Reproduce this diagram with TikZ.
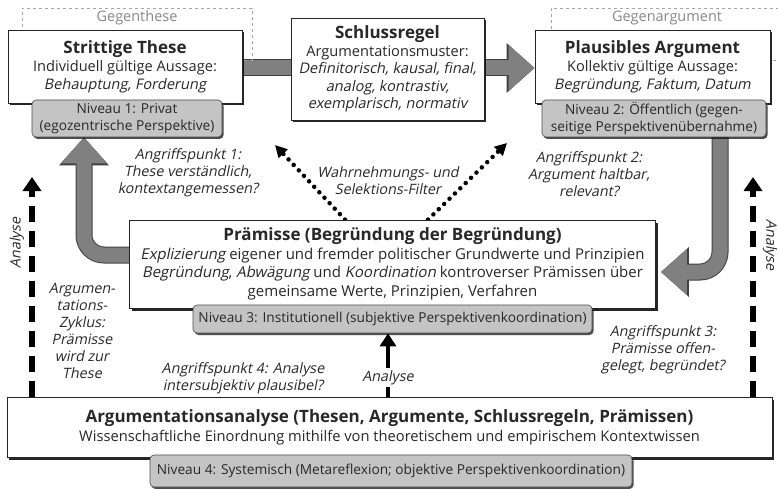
\documentclass[tikz,border=0pt]{standalone}
\usepackage{fontspec}
\setmainfont{Open Sans}[ItalicFont=Open Sans,ItalicFeatures={FakeSlant=0.2}]
\usetikzlibrary{arrows.meta,positioning,shadows}
\definecolor{inkgray}{RGB}{40,40,40}
\definecolor{levelgray}{RGB}{196,196,196}
\definecolor{bargray}{RGB}{128,128,128}
\definecolor{notegray}{RGB}{135,135,135}
\pgfdeclarelayer{bg}
\pgfsetlayers{bg,main}
\newcommand{\boxtitle}[1]{{\fontsize{17}{19}\selectfont\bfseries #1}}
\tikzset{
  argbox/.style={draw=black!85,line width=0.8pt,fill=white,align=center,inner sep=2pt,
    text=inkgray,font=\fontsize{14.6}{17.5}\selectfont,
    drop shadow={shadow xshift=2pt,shadow yshift=-2.5pt,opacity=0.85,fill=black}},
  levelbox/.style={draw=black!70,line width=0.6pt,fill=levelgray,rounded corners=4pt,align=center,
    inner sep=1pt,text=inkgray,font=\fontsize{13.7}{17}\selectfont,
    drop shadow={shadow xshift=1.5pt,shadow yshift=-2pt,opacity=0.7,fill=black}},
  ghostbox/.style={draw=black!35,dashed,line width=0.7pt},
  ghostlabel/.style={text=notegray,font=\fontsize{14.5}{15}\selectfont,inner sep=2pt},
  note/.style={align=center,text=inkgray,font=\fontsize{14.3}{17}\selectfont\itshape,inner sep=1pt},
  graybar/.style={line width=15pt,draw=bargray,rounded corners=20pt,
    -{Triangle[length=26pt,width=44pt]},
    preaction={draw=black!75,line width=17pt,-{Triangle[length=28pt,width=48pt]}}},
  filterarrow/.style={line width=4.5pt,dash pattern=on 0pt off 7.5pt,line cap=round,
    -{Triangle[length=12pt,width=12pt]}},
  analysearrow/.style={line width=6pt,dash pattern=on 16pt off 9pt,-{Triangle[length=14pt,width=18pt]}},
  solidarrow/.style={line width=4.5pt,-{Triangle[length=13pt,width=16pt]}}
}
\begin{document}
\begin{tikzpicture}[x=1pt,y=-1pt]
  \useasboundingbox (0,0) rectangle (778,489);
  \clip (0,0) rectangle (778,489);

  \node[ghostbox,minimum width=230pt,minimum height=52pt] (thesisghost) at (137,34) {};
  \node[ghostlabel,below=1pt of thesisghost.north] (gegenthese) {Gegenthese};
  \node[ghostbox,minimum width=232pt,minimum height=52pt] (argghost) at (667,34) {};
  \node[ghostlabel,below=1pt of argghost.north] (gegenargument) {Gegenargument};

  \node[argbox,minimum width=234pt,minimum height=73pt] (these) at (125,66.5)
    {\boxtitle{Strittige These}\\[1pt] Individuell gültige Aussage:\\ \textit{Behauptung, Forderung}};
  \node[argbox,minimum width=193pt,minimum height=102pt] (schluss) at (387.5,69)
    {\boxtitle{Schlussregel}\\ Argumentationsmuster:\\ \textit{Definitorisch, kausal, final,}\\
     \textit{analog, kontrastiv,}\\ \textit{exemplarisch, normativ}};
  \node[argbox,minimum width=235pt,minimum height=73pt] (arg) at (652.5,66.5)
    {\boxtitle{Plausibles Argument}\\[1pt] Kollektiv gültige Aussage:\\ \textit{Begründung, Faktum, Datum}};
  \node[levelbox,minimum width=190pt,minimum height=37pt] (niv1) at (127,118.5)
    {Niveau 1: Privat\\ (egozentrische Perspektive)};
  \node[levelbox,minimum width=224pt,minimum height=37pt] (niv2) at (654,118.5)
    {Niveau 2: Öffentlich (gegen-\\ seitige Perspektivenübernahme)};

  \node[argbox,minimum width=526pt,minimum height=88pt,font=\fontsize{15}{18.5}\selectfont] (praem) at (392.5,264)
    {\boxtitle{Prämisse (Begründung der Begründung)}\\
     \textit{Explizierung} eigener und fremder politischer Grundwerte und Prinzipien\\
     \textit{Begründung}, \textit{Abwägung} und \textit{Koordination} kontroverser Prämissen über\\
     gemeinsame Werte, Prinzipien, Verfahren};
  \node[levelbox,minimum width=399pt,minimum height=28pt] (niv3) at (392.5,319)
    {Niveau 3: Institutionell (subjektive Perspektivenkoordination)};

  \node[argbox,minimum width=765pt,minimum height=60pt,font=\fontsize{14.7}{19}\selectfont] (ana) at (389.5,427)
    {\boxtitle{Argumentationsanalyse (Thesen, Argumente, Schlussregeln, Prämissen)}\\
     Wissenschaftliche Einordnung mithilfe von theoretischem und empirischem Kontextwissen};
  \node[levelbox,minimum width=482pt,minimum height=32pt] (niv4) at (391,471)
    {Niveau 4: Systemisch (Metareflexion; objektive Perspektivenkoordination)};

  \node[note] (ap1) at (188,173) {Angriffspunkt 1:\\ These verständlich,\\ kontextangemessen?};
  \node[note] (ap2) at (589,174) {Angriffspunkt 2:\\ Argument haltbar,\\ relevant?};
  \node[note] (filter) at (388,181) {Wahrnehmungs- und\\ Selektions-Filter};
  \node[note] (zyklus) at (82,330.5) {Argumen-\\ tations-\\ Zyklus:\\ Prämisse\\ wird zur\\ These};
  \node[note] (ap4) at (243,378) {Angriffspunkt 4: Analyse\\ intersubjektiv plausibel?};
  \node[note] (ap3) at (663,350) {Angriffspunkt 3:\\ Prämisse offen-\\ gelegt, begründet?};
  \node[note,rotate=90] (analyseL) at (17,243) {Analyse};
  \node[note,rotate=-90] (analyseR) at (770,245) {Analyse};

  \coordinate (filterL) at (275,145);
  \coordinate (filterR) at (507,143);
  \coordinate (analyseTipL) at (32,177);
  \coordinate (analyseTipR) at (753,177);

  \begin{pgfonlayer}{bg}
    \draw[graybar] (these.east |- 0,68) -- (arg.west |- 0,68);
    \draw[graybar] (praem.west |- 0,255) -| ([xshift=-43pt]niv1.south);
    \draw[graybar] ([xshift=66pt]niv2.south) |- ([xshift=5pt]praem.east |- 0,272);
    \draw[filterarrow] (praem.north -| 345,0) -- (filterL);
    \draw[filterarrow] (praem.north -| 428,0) -- (filterR);
    \draw[analysearrow] (ana.north -| analyseTipL) -- (analyseTipL);
    \draw[analysearrow] (ana.north -| analyseTipR) -- (analyseTipR);
    \draw[solidarrow] (ana.north -| 388,0) -- node[pos=0.3,note,fill=white,inner sep=2pt] (analyseM) {Analyse} (niv3.south -| 388,0);
  \end{pgfonlayer}
\end{tikzpicture}
\end{document}
